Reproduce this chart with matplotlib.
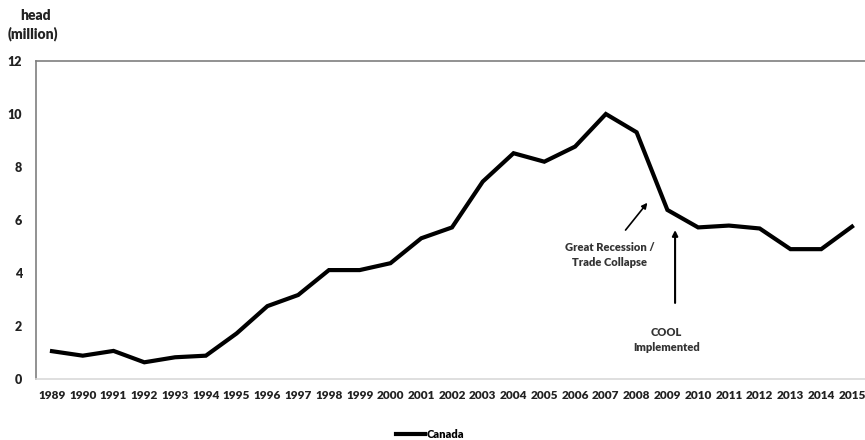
import matplotlib.pyplot as plt

plt.rcParams["font.family"] = ["Lato", "DejaVu Sans"]
plt.rcParams["font.weight"] = "heavy"

years = list(range(1989, 2016))
canada = [1.05, 0.88, 1.06, 0.63, 0.82, 0.88, 1.72, 2.75, 3.17, 4.11, 4.11, 4.37,
          5.31, 5.72, 7.45, 8.52, 8.2, 8.77, 10.0, 9.31, 6.38, 5.72, 5.79, 5.68,
          4.9, 4.9, 5.75]
y_ticks = [0, 2, 4, 6, 8, 10, 12]

W, H = 865, 440
fig = plt.figure(figsize=(W / 100, H / 100), dpi=100)
# axes spans past the right edge, like the cropped original
ax = fig.add_axes([36 / W, 1 - 379 / H, (868 - 36) / W, (379 - 61) / H])

x = list(range(len(years)))
ax.plot(x, canada, color="black", linewidth=3, solid_joinstyle="miter", label="Canada")

ax.set_xlim(-0.52, len(years) - 0.48)
ax.set_ylim(0, 12)
ax.set_yticks(y_ticks)
ax.set_xticks(x)
ax.set_xticklabels([str(y) for y in years])
ax.tick_params(length=0, labelsize=8.5, labelcolor="#222222")
ax.tick_params(axis="y", pad=10, labelsize=9)
ax.tick_params(axis="x", pad=8)

for side in ["left", "top", "right"]:
    ax.spines[side].set_color("#7f7f7f")
    ax.spines[side].set_linewidth(1.2)
ax.spines["bottom"].set_color("#d9d9d9")
ax.spines["bottom"].set_linewidth(1.2)

fig.text(20 / W, 1 - 15 / H, "head", fontsize=10, va="center", ha="left", color="#222222")
fig.text(8 / W, 1 - 34 / H, "(million)", fontsize=10, va="center", ha="left", color="#222222")

arrow = dict(arrowstyle="-|>", color="black", shrinkA=0, shrinkB=0, mutation_scale=8)
ax.annotate("", xy=(19.35, 6.65), xytext=(18.64, 5.62), arrowprops=dict(arrow, lw=1.2))
ax.text(18.12, 4.68, "Great Recession /\nTrade Collapse", ha="center", va="center",
        fontsize=8, linespacing=1.4, color="#333333")
ax.annotate("", xy=(20.25, 5.62), xytext=(20.25, 2.87), arrowprops=dict(arrow, lw=1.5))
ax.text(19.97, 1.47, "COOL\nImplemented", ha="center", va="center", fontsize=8,
        linespacing=1.4, color="#333333")

fig.legend(loc="center", bbox_to_anchor=(430 / W, 1 - 434 / H), frameon=False,
           fontsize=8, handlelength=2.6, handletextpad=0.1)

fig.savefig("out.png", dpi=100)
